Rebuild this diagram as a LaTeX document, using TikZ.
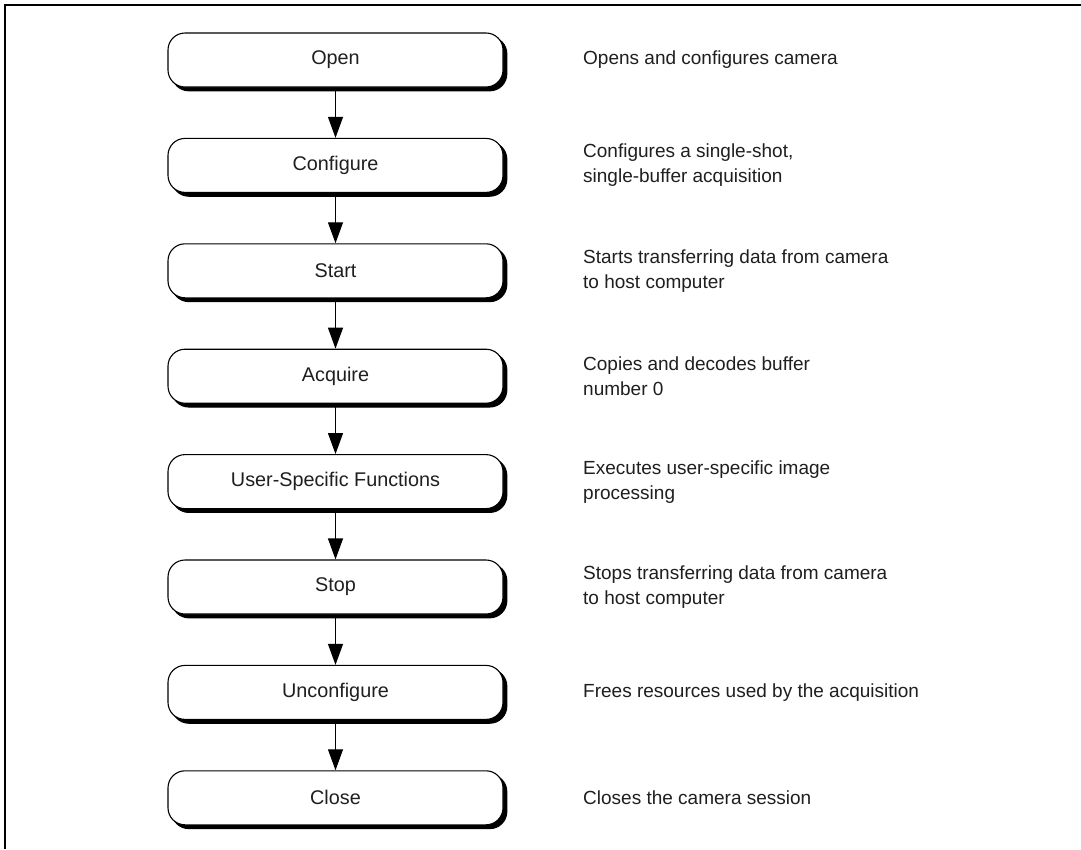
\documentclass[tikz,border=0pt]{standalone}
\usepackage{fontspec}
\setmainfont{Liberation Sans}
\usetikzlibrary{arrows.meta,shadows}
\begin{document}
\begin{tikzpicture}[x=1pt,y=-1pt,
  stepbox/.style={draw=black,line width=1.1pt,fill=white,rounded corners=17pt,
    minimum width=335pt,minimum height=54pt,inner sep=0pt,
    font=\fontsize{19.8}{25}\selectfont,text=black!88,
    copy shadow={shadow xshift=3.8pt,shadow yshift=-3.8pt,fill=black,draw=black}},
  desc/.style={anchor=west,align=left,inner sep=0pt,font=\fontsize{19}{25}\selectfont,text=black!88},
  flow/.style={draw=black,line width=1.1pt,-{Triangle[width=15pt,length=21pt]}}]
\useasboundingbox (0,0) rectangle (1081,849);
\fill[white] (0,0) rectangle (1081,849);
\coordinate (fl) at (5,849);
\coordinate (fc) at (5,5);
\coordinate (fr) at (1081,5);
\draw[line width=2.4pt] (fl) -- (fc) -- (fr);
\foreach \n/\t/\d [count=\i from 0] in {
  open/Open/{Opens and configures camera},
  conf/Configure/{Configures a single-shot,\\single-buffer acquisition},
  start/Start/{Starts transferring data from camera\\to host computer},
  acq/Acquire/{Copies and decodes buffer\\number 0},
  usf/User-Specific Functions/{Executes user-specific image\\processing},
  stop/Stop/{Stops transferring data from camera\\to host computer},
  unconf/Unconfigure/{Frees resources used by the acquisition},
  close/Close/{Closes the camera session}}{
  \node[stepbox] (\n) at (335.5,{60+105.4*\i}) {\t};
  \node[desc] (\n-d) at (583,{60+105.4*\i}) {\d};
}
\draw[flow] (open) -- (conf);
\draw[flow] (conf) -- (start);
\draw[flow] (start) -- (acq);
\draw[flow] (acq) -- (usf);
\draw[flow] (usf) -- (stop);
\draw[flow] (stop) -- (unconf);
\draw[flow] (unconf) -- (close);
\end{tikzpicture}
\end{document}
